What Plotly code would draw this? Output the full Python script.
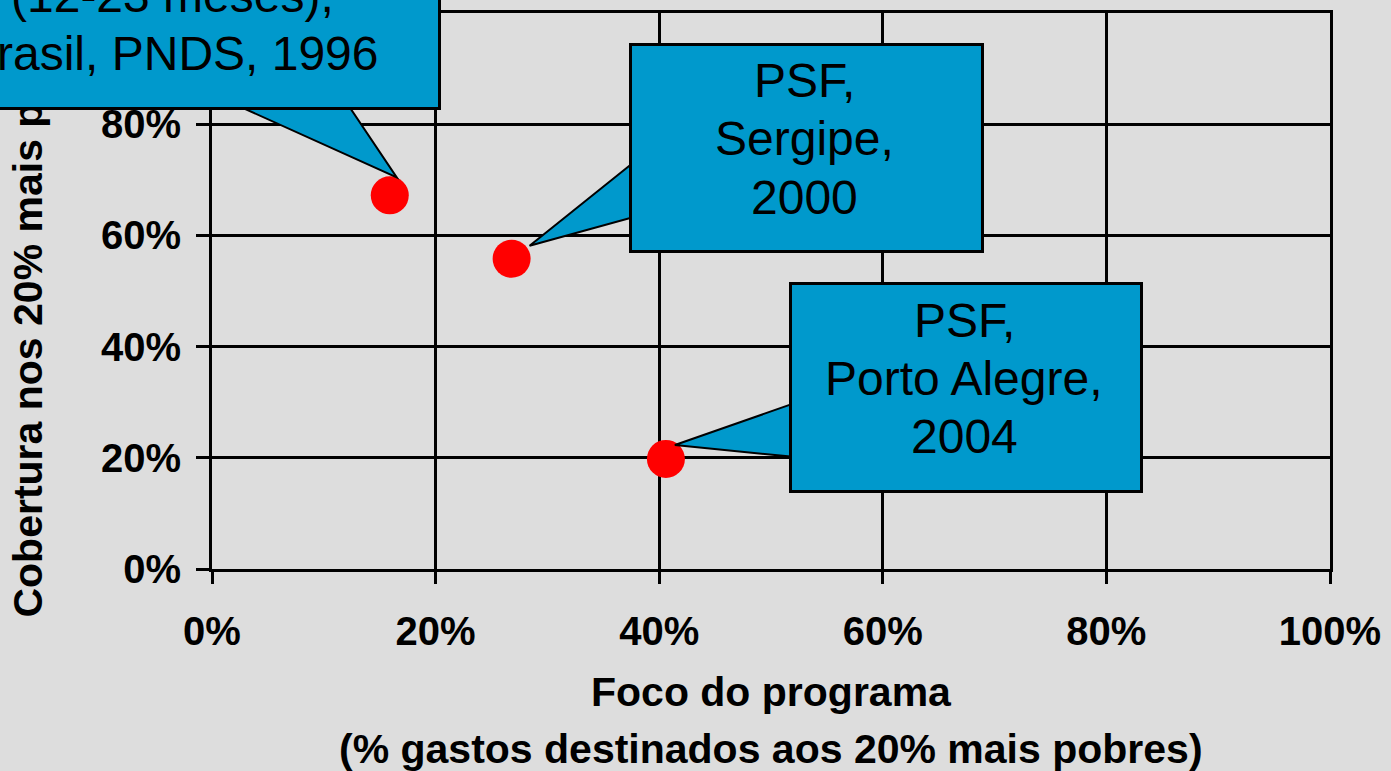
import plotly.graph_objects as go

# ---- data ----
foco = [15.9, 26.8, 40.6]           # % gastos destinados aos 20% mais pobres
cobertura = [67.2, 55.8, 19.8]      # cobertura nos 20% mais pobres
rotulos = [
    "Cobertura vacinal<br>(12-23 meses),<br>Brasil, PNDS, 1996",
    "PSF,<br>Sergipe,<br>2000",
    "PSF,<br>Porto Alegre,<br>2004",
]
x_ticks = [0, 20, 40, 60, 80, 100]
y_ticks = [0, 20, 40, 60, 80, 100]

# ---- layout geometry (pixels) ----
W, H = 1391, 771
L, R, T, B = 212, 59, 10, 202
PW, PH = W - L - R, H - T - B

def px_to_paper(px, py):
    return (px - L) / PW, (H - B - py) / PH

# callout boxes: left, right, top, bottom (px); tail base points (px); tip offset from point (px)
callouts = [
    dict(box=(-93.5, 437.5, -115, 103), base=[(222, 96), (344, 96)], tip=(7, -18)),
    dict(box=(630, 981.5, 40, 247), base=[(642, 154), (642, 213)], tip=(18, -13)),
    dict(box=(790, 1141, 280, 488), base=[(802, 400), (802, 457)], tip=(9, -14)),
]
LINE_GAP = 58.5      # px between text lines inside callouts
LAST_LINE_FROM_BOTTOM = 52

FONT = "Liberation Sans, Arial, sans-serif"
BLUE = "#0099CC"

fig = go.Figure()
fig.add_trace(go.Scatter(
    x=foco, y=cobertura, mode="markers",
    marker=dict(color="#FF0000", size=38, line=dict(width=0)),
    showlegend=False, hoverinfo="skip",
))

shapes = []
annotations = []

# y-axis title (as annotation so callout box can cover it)
ax, ay = px_to_paper(28, 620)
annotations.append(dict(
    text="<b>Cobertura nos 20% mais pobres</b>", textangle=-90,
    xref="paper", yref="paper", x=ax, y=ay, xanchor="center", yanchor="bottom",
    showarrow=False, font=dict(family=FONT, size=41, color="black"),
))
# x-axis title lines
for txt, py in [("Foco do programa", 693), ("(% gastos destinados aos 20% mais pobres)", 750)]:
    tx, ty = px_to_paper(L + PW / 2, py)
    annotations.append(dict(
        text="<b>" + txt + "</b>", xref="paper", yref="paper", x=tx, y=ty,
        xanchor="center", yanchor="middle", showarrow=False,
        font=dict(family=FONT, size=41, color="black"),
    ))

for xv, yv, lab, c in zip(foco, cobertura, rotulos, callouts):
    cx = L + xv / 100 * PW
    cy = H - B - yv / 100 * PH
    tipx, tipy = cx + c["tip"][0], cy + c["tip"][1]
    (b1x, b1y), (b2x, b2y) = c["base"]
    p1 = px_to_paper(b1x, b1y)
    p2 = px_to_paper(tipx, tipy)
    p3 = px_to_paper(b2x, b2y)
    shapes.append(dict(
        type="path", xref="paper", yref="paper", layer="above",
        path=f"M {p1[0]},{p1[1]} L {p2[0]},{p2[1]} L {p3[0]},{p3[1]} Z",
        fillcolor=BLUE, line=dict(color="black", width=2),
    ))
    bl, br, bt, bb = c["box"]
    x0, y0 = px_to_paper(bl, bt)
    annotations.append(dict(
        text=" ", xref="paper", yref="paper", x=x0, y=y0,
        xanchor="left", yanchor="top", showarrow=False,
        width=br - bl - 3, height=bb - bt - 3,
        bgcolor=BLUE, bordercolor="black", borderwidth=3, borderpad=0,
        font=dict(family=FONT, size=10, color="black"),
    ))
    lines = lab.split("<br>")
    n = len(lines)
    for i, ln in enumerate(lines):
        ly = bb - LAST_LINE_FROM_BOTTOM - (n - 1 - i) * LINE_GAP
        tx, ty = px_to_paper((bl + br) / 2, ly)
        annotations.append(dict(
            text=ln, xref="paper", yref="paper", x=tx, y=ty,
            xanchor="center", yanchor="middle", showarrow=False,
            font=dict(family=FONT, size=48, color="black"),
        ))

fig.update_layout(
    width=W, height=H,
    margin=dict(l=L, r=R, t=T, b=B, pad=0),
    paper_bgcolor="#DDDDDD", plot_bgcolor="#DDDDDD",
    shapes=shapes, annotations=annotations,
    font=dict(family=FONT, color="black"),
)
fig.update_xaxes(
    range=[0, 100], tickvals=x_ticks, ticktext=[f"<b>{v}%</b>" for v in x_ticks],
    showgrid=True, gridcolor="black", gridwidth=3,
    showline=True, linecolor="black", linewidth=3, mirror=True,
    ticks="outside", ticklen=12, tickwidth=3, tickcolor="black",
    tickfont=dict(family=FONT, size=40, color="black"), ticklabelstandoff=13,
    zeroline=False, fixedrange=True,
)
fig.update_yaxes(
    range=[0, 100], tickvals=y_ticks, ticktext=[f"<b>{v}%</b>" for v in y_ticks],
    showgrid=True, gridcolor="black", gridwidth=3,
    showline=True, linecolor="black", linewidth=3, mirror=True,
    ticks="outside", ticklen=13, tickwidth=3, tickcolor="black",
    tickfont=dict(family=FONT, size=40, color="black"), ticklabelstandoff=7,
    zeroline=False, fixedrange=True,
)

fig.write_html(
    "out.html",
    config={"displayModeBar": False},
    post_script="document.body.style.margin='0';document.body.style.overflow='hidden';document.body.style.background='#DDDDDD';",
)
